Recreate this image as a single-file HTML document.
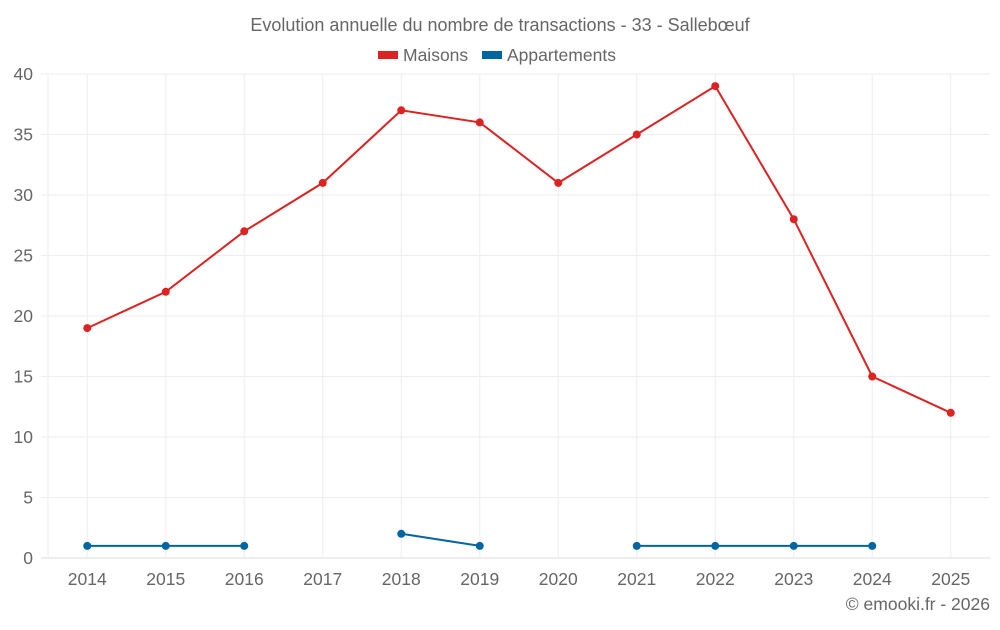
<!DOCTYPE html>
<html><head><meta charset="utf-8"><style>
body{margin:0;background:#fff;font-family:"Liberation Sans",sans-serif}
svg text{font-family:"Liberation Sans",sans-serif;fill:#666}
</style></head><body>
<svg id="chart" width="1000" height="625">
<text x="500" y="31" text-anchor="middle" font-size="18">Evolution annuelle du nombre de transactions - 33 - Sallebœuf</text>
<g>
<g><rect x="378" y="51" width="20" height="8" fill="#dd2222"/><text x="403" y="61" font-size="17.5">Maisons</text></g>
<g><rect x="482" y="51" width="20" height="8" fill="#0066a1"/><text x="507" y="61" font-size="17.5">Appartements</text></g>
</g>
<g id="grid"></g><g id="axes"></g><g id="series"></g>
<text x="990" y="610" text-anchor="end" font-size="17.5">© emooki.fr - 2026</text>
</svg>
<script>
const categories=["2014","2015","2016","2017","2018","2019","2020","2021","2022","2023","2024","2025"];
const maisons=[19,22,27,31,37,36,31,35,39,28,15,12];
const appartements=[1,1,1,null,2,1,null,1,1,1,1,null];
const yTicks=[0,5,10,15,20,25,30,35,40];
const L=48,R=990,T=74,B=558,yMax=40;
const bw=(R-L)/categories.length;
const x=i=>L+bw*(i+0.5);
const y=v=>B-(v/yMax)*(B-T);
const NS="http://www.w3.org/2000/svg";
function mk(tag,attrs,parent){const e=document.createElementNS(NS,tag);for(const k in attrs)e.setAttribute(k,attrs[k]);parent.appendChild(e);return e;}
const grid=document.getElementById('grid'),axes=document.getElementById('axes'),series=document.getElementById('series');
yTicks.forEach(t=>{
 const l=mk('line',{x1:41,x2:R,y1:y(t),y2:y(t),stroke:t===0?'#ddd':'#eee','stroke-width':1},grid);
 
 
 const tx=mk('text',{x:33,y:y(t)+6,'text-anchor':'end','font-size':17.5},axes);
 tx.textContent=t;
 
 
});
const ax=mk('line',{x1:L,x2:L,y1:T,y2:B,stroke:'#eee'},grid);


categories.forEach((c,i)=>{
 const l=mk('line',{x1:x(i),x2:x(i),y1:T,y2:B,stroke:'#eee'},grid);
 
 
 const tx=mk('text',{x:x(i),y:585,'text-anchor':'middle','font-size':17.5},axes);
 tx.textContent=c;
 
 
});
function draw(data,color,name){
 let d='',pen=false;
 data.forEach((v,i)=>{if(v===null){pen=false;return;}d+=(pen?'L':'M')+x(i)+' '+y(v)+' ';pen=true;});
 const p=mk('path',{d:d,fill:'none',stroke:color,'stroke-width':2},series);
 
 
 data.forEach((v,i)=>{if(v===null)return;
  const c=mk('circle',{cx:x(i),cy:y(v),r:4,fill:color},series);
  
  
 });
}
draw(maisons,'#dd2222','maisons');
draw(appartements,'#0066a1','appartements');
</script>
</body></html>
